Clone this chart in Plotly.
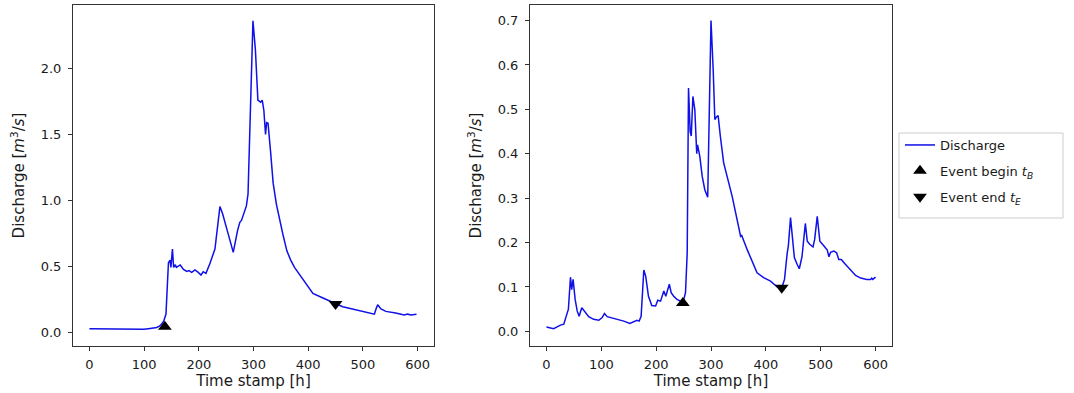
import plotly.graph_objects as go

# ---- data ----
left_time = [0, 20, 40, 60, 70, 80, 100, 111, 118, 123, 128, 132, 136, 140, 142.6, 144.5,
             147.5, 149, 151.8, 154, 157, 159, 166, 172, 178, 182, 187, 193, 199, 204, 208,
             213, 220, 229.5, 238.6, 243.5, 253.7, 263, 270.8, 275, 278, 287, 290, 293, 296,
             299, 303.5, 308, 313, 316, 319, 322, 324, 326.6, 331, 336, 342, 348, 354, 361,
             368, 375, 390, 400, 408.6, 427, 450, 463, 475, 487.6, 506, 521, 524, 527, 533,
             542, 560, 575.6, 581.6, 588, 598]
left_discharge = [0.03, 0.03, 0.029, 0.026, 0.027, 0.025, 0.026, 0.033, 0.038, 0.04, 0.05,
                  0.066, 0.09, 0.142, 0.37, 0.53, 0.55, 0.495, 0.634, 0.495, 0.515, 0.495,
                  0.513, 0.48, 0.464, 0.47, 0.457, 0.475, 0.457, 0.437, 0.462, 0.45, 0.52,
                  0.634, 0.955, 0.9, 0.748, 0.608, 0.773, 0.836, 0.85, 0.96, 1.05, 1.5, 2.0,
                  2.36, 2.14, 1.76, 1.745, 1.76, 1.68, 1.5, 1.59, 1.585, 1.38, 1.13, 0.97,
                  0.85, 0.74, 0.62, 0.55, 0.495, 0.407, 0.35, 0.298, 0.263, 0.217, 0.197,
                  0.185, 0.172, 0.154, 0.141, 0.18, 0.212, 0.18, 0.162, 0.149, 0.134, 0.141,
                  0.134, 0.141]
left_begin = (138, 0.045)
left_end = (450, 0.217)

right_time = [0, 7, 13, 19.5, 25.5, 31.6, 36.5, 40, 43.8, 46, 48.6, 52.3, 56, 59.6, 64.4,
              69.3, 77, 86, 95.5, 101.5, 105.8, 110.7, 119.8, 129, 131, 141, 152, 159, 165,
              169, 172.6, 177.5, 181, 186, 192, 199, 203, 208, 214, 217.6, 224, 227.4, 232,
              238, 244, 249, 253.5, 256.6, 259, 262, 264, 267, 270.5, 274, 275.5, 279.6, 284,
              288.7, 294, 296.7, 300, 304, 307, 310, 313, 317, 323, 338.6, 352, 354, 356, 366,
              384, 396, 408.5, 421, 429, 434, 439, 441, 445, 448.6, 452, 457, 461, 466, 472,
              475.5, 480, 486, 489, 493.7, 498.5, 506, 512, 515, 518, 524, 529, 533, 537.5,
              545, 554, 563.6, 573, 584, 591, 593, 595, 600]
right_discharge = [0.01, 0.008, 0.006, 0.01, 0.014, 0.016, 0.034, 0.05, 0.122, 0.094, 0.117,
                   0.072, 0.046, 0.034, 0.053, 0.046, 0.033, 0.027, 0.025, 0.031, 0.04, 0.033,
                   0.03, 0.027, 0.028, 0.023, 0.018, 0.0225, 0.025, 0.023, 0.034, 0.138, 0.124,
                   0.079, 0.058, 0.057, 0.07, 0.068, 0.091, 0.079, 0.106, 0.087, 0.079, 0.072,
                   0.068, 0.065, 0.087, 0.177, 0.548, 0.45, 0.44, 0.529, 0.499, 0.40, 0.42,
                   0.394, 0.349, 0.319, 0.302, 0.477, 0.70, 0.589, 0.477, 0.483, 0.486, 0.44,
                   0.38, 0.304, 0.222, 0.214, 0.216, 0.184, 0.132, 0.121, 0.113, 0.1, 0.098,
                   0.117, 0.177, 0.192, 0.256, 0.207, 0.166, 0.151, 0.141, 0.169, 0.243, 0.203,
                   0.196, 0.19, 0.207, 0.259, 0.203, 0.192, 0.183, 0.168, 0.178, 0.181, 0.177,
                   0.162, 0.162, 0.151, 0.139, 0.126, 0.12, 0.117, 0.117, 0.12, 0.117, 0.122]
right_begin = (248.7, 0.064)
right_end = (429, 0.098)

x_ticks = [0, 100, 200, 300, 400, 500, 600]

# ---- figure ----
FONT = "DejaVu Sans"
TXT = "#1a1a1a"
W, H = 1074, 393
ML, MR, MT, MB = 73, 182, 5, 47
PW, PH = W - ML - MR, H - MT - MB


def px_to_paper_x(px):
    return (px - ML) / PW


def px_to_paper_y(py):
    return (H - MB - py) / PH


line_style = dict(color="#1010e8", width=1.5)
fig = go.Figure()

for i, (t, q, b, e) in enumerate([(left_time, left_discharge, left_begin, left_end),
                                  (right_time, right_discharge, right_begin, right_end)]):
    xa = "x" if i == 0 else "x2"
    ya = "y" if i == 0 else "y2"
    show = i == 0
    fig.add_trace(go.Scatter(x=t, y=q, mode="lines", line=line_style, name="Discharge",
                             legendgroup="g1", xaxis=xa, yaxis=ya, showlegend=show))
    fig.add_trace(go.Scatter(x=[b[0]], y=[b[1]], mode="markers",
                             marker=dict(symbol="triangle-up", size=12, color="black"),
                             name="Event begin <i>t</i><sub><i>B</i></sub>",
                             legendgroup="g2", xaxis=xa, yaxis=ya, showlegend=show))
    fig.add_trace(go.Scatter(x=[e[0]], y=[e[1]], mode="markers",
                             marker=dict(symbol="triangle-down", size=12, color="black"),
                             name="Event end <i>t</i><sub><i>E</i></sub>",
                             legendgroup="g3", xaxis=xa, yaxis=ya, showlegend=show))

axis_common = dict(showline=True, linecolor="#333333", linewidth=1, mirror=True,
                   ticks="outside", ticklen=4, tickcolor="#333333", showgrid=False,
                   zeroline=False, automargin=False,
                   tickfont=dict(family=FONT, size=13, color=TXT),
                   title_font=dict(family=FONT, size=15, color=TXT))

ytitle = "Discharge [<i>m</i><sup>3</sup>/<i>s</i>]"
fig.update_layout(
    width=W, height=H,
    margin=dict(l=ML, r=MR, t=MT, b=MB),
    paper_bgcolor="white", plot_bgcolor="white",
    font=dict(family=FONT, size=13, color=TXT),
    xaxis=dict(domain=[0, px_to_paper_x(434)], range=[-30, 630], tickvals=x_ticks,
               ticklabelstandoff=2,
               title=dict(text="Time stamp [h]", standoff=3), **axis_common),
    yaxis=dict(range=[-0.1, 2.48], dtick=0.5, tickformat=".1f", ticklabelstandoff=4,
               title=dict(text=ytitle, standoff=12), **axis_common),
    xaxis2=dict(domain=[px_to_paper_x(530), 1.0], range=[-30, 630], tickvals=x_ticks,
                anchor="y2", ticklabelstandoff=2,
                title=dict(text="Time stamp [h]", standoff=3), **axis_common),
    yaxis2=dict(range=[-0.033, 0.735], dtick=0.1, tickformat=".1f", anchor="x2",
                ticklabelstandoff=4,
                title=dict(text=ytitle, standoff=12), **axis_common),
    legend=dict(x=px_to_paper_x(900), y=px_to_paper_y(130), xanchor="left", yanchor="top",
                borderwidth=0, bgcolor="rgba(0,0,0,0)",
                font=dict(family=FONT, size=13, color=TXT),
                tracegroupgap=6, traceorder="grouped"),
    shapes=[dict(type="rect", xref="paper", yref="paper",
                 x0=px_to_paper_x(899), x1=px_to_paper_x(1063),
                 y0=px_to_paper_y(218), y1=px_to_paper_y(133),
                 line=dict(color="#cccccc", width=1), fillcolor="rgba(0,0,0,0)",
                 layer="below")],
)

# remove the browser's default 8px page margin so the figure sits at the window origin
fig.write_html("out.html", config={"displayModeBar": False},
               post_script="document.body.style.margin='0';")
